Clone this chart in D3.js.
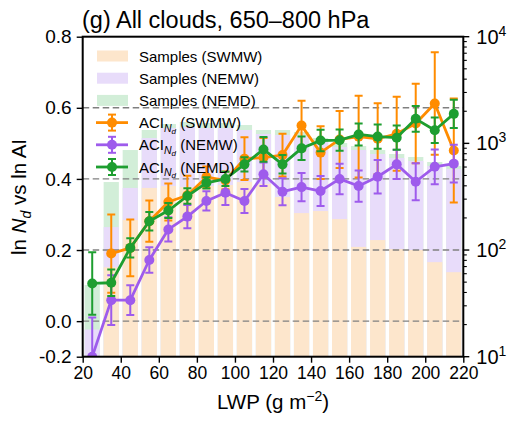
<!DOCTYPE html>
<html><head><meta charset="utf-8">
<script src="https://cdn.jsdelivr.net/npm/d3@7"></script>
<style>body{margin:0;background:#fff;} text{font-family:"Liberation Sans", Arial, sans-serif;fill:#000;}</style>
</head><body><svg id="c" width="512" height="421"></svg>
<script>
// ---- data ----
const lwp = [25,35,45,55,65,75,85,95,105,115,125,135,145,155,165,175,185,195,205,215];
const aciSWMW = [null,0.19,0.206,0.281,0.335,0.354,0.405,0.396,0.457,0.46,0.467,0.55,0.474,0.511,0.519,0.513,0.527,0.556,0.612,0.48];
const errSWMW = [null,0.11,0.08,0.058,0.052,0.055,0.03,0.025,0.06,0.055,0.06,0.07,0.074,0.08,0.115,0.10,0.104,0.112,0.144,0.146];
const aciNEMW = [-0.1,0.059,0.059,0.172,0.258,0.294,0.338,0.361,0.338,0.413,0.364,0.377,0.366,0.40,0.38,0.406,0.441,0.392,0.434,0.443];
const errNEMW = [0.11,0.07,0.042,0.036,0.034,0.033,0.027,0.034,0.034,0.033,0.038,0.04,0.042,0.043,0.044,0.047,0.041,0.052,0.049,0.053];
const aciNEMD = [0.106,0.108,0.206,0.281,0.311,0.352,0.389,0.40,0.441,0.483,0.441,0.486,0.508,0.509,0.525,0.519,0.516,0.569,0.537,0.583];
const errNEMD = [0.088,0.037,0.027,0.026,0.021,0.022,0.016,0.02,0.02,0.035,0.026,0.033,0.03,0.03,0.031,0.034,0.034,0.036,0.036,0.04];
const nSWMW = [null,69,191,382,398,390,398,407,434,416,314,222,232,195,107,124,102,100,77,62];
const nNEMW = [18,164,382,1122,1393,1423,1393,1393,1334,1224,1197,1172,1030,925,866,795,729,684,614,575];
const nNEMD = [47,434,866,1334,1518,1585,1552,1552,1486,1334,1334,1277,1122,1007,944,866,795,745,669,614];
const xTicks = [20,40,60,80,100,120,140,160,180,200,220];
const yTicks = [-0.1,0.0,0.2,0.4,0.6,0.8];
const yTickLabels = ["-0.2","0.0","0.2","0.4","0.6","0.8"];
const gridVals = [0.0,0.2,0.4,0.6];
const rTicks = [10,100,1000,10000];
const rTickExp = ["1","2","3","4"];
const seriesNames = ["SWMW","NEMW","NEMD"];
const lineColors = ["#ff8c00","#9e5bec","#1e9e30"];
const barColors = ["#fde6cc","#e8dcfa","#d2eed8"];

// ---- layout ----
const L = 82.7, R = 463.3, T = 36.7, B = 356.7;
const FONT = "Liberation Sans, Arial, sans-serif";
const svg = d3.select("#c");
const x = d3.scaleLinear().domain([20,220]).range([L,R]);
const y = d3.scaleLinear().domain([-0.1,0.8]).range([B,T]);
const yr = d3.scaleLog().domain([10,10000]).range([B,T]);

svg.append("defs").append("clipPath").attr("id","clip")
  .append("rect").attr("x",L).attr("y",T).attr("width",R-L).attr("height",B-T);

const plot = svg.append("g").attr("clip-path","url(#clip)");

// bars: NEMD (back), NEMW, SWMW (front)
const barSets = [[nNEMD,barColors[2]],[nNEMW,barColors[1]],[nSWMW,barColors[0]]];
barSets.forEach(([vals,col])=>{
  plot.append("g").selectAll("rect").data(lwp.map((c,i)=>({c,v:vals[i]})).filter(d=>d.v!=null))
    .enter().append("rect")
    .attr("x",d=>x(d.c-4)).attr("width",d=>x(d.c+4)-x(d.c-4))
    .attr("y",d=>yr(d.v)).attr("height",d=>B-yr(d.v))
    .attr("fill",col);
});

// grid
plot.append("g").selectAll("line").data(gridVals).enter().append("line")
  .attr("x1",L).attr("x2",R).attr("y1",d=>y(d)).attr("y2",d=>y(d))
  .attr("stroke","#808080").attr("stroke-width",1.4).attr("stroke-dasharray","6.5,3.5");

// series
const series = [[aciSWMW,errSWMW],[aciNEMW,errNEMW],[aciNEMD,errNEMD]];
series.forEach(([vals,errs],k)=>{
  const col = lineColors[k];
  const pts = lwp.map((c,i)=>({c,v:vals[i],e:errs[i]})).filter(d=>d.v!=null);
  const g = plot.append("g");
  pts.forEach(d=>{
    const y1 = y(d.v+d.e), y2 = y(d.v-d.e), cx = x(d.c);
    g.append("line").attr("x1",cx).attr("x2",cx).attr("y1",y1).attr("y2",y2).attr("stroke",col).attr("stroke-width",2);
    [y1,y2].forEach(yy=>g.append("line").attr("x1",cx-4).attr("x2",cx+4).attr("y1",yy).attr("y2",yy).attr("stroke",col).attr("stroke-width",2));
  });
  g.append("path").datum(pts)
    .attr("d",d3.line().x(d=>x(d.c)).y(d=>y(d.v)))
    .attr("fill","none").attr("stroke",col).attr("stroke-width",2.8).attr("stroke-linejoin","round");
  g.selectAll("circle").data(pts).enter().append("circle")
    .attr("cx",d=>x(d.c)).attr("cy",d=>y(d.v)).attr("r",5).attr("fill",col);
});

// frame
svg.append("rect").attr("x",L).attr("y",T).attr("width",R-L).attr("height",B-T)
  .attr("fill","none").attr("stroke","#000").attr("stroke-width",2);

// bottom axis
const gx = svg.append("g").attr("transform",`translate(0,${B})`)
  .call(d3.axisBottom(x).tickValues(xTicks).tickSize(6).tickPadding(4).tickFormat(d3.format("d")));
gx.select(".domain").remove();
gx.selectAll("line").attr("stroke","#000").attr("stroke-width",1.4);
gx.selectAll("text").attr("font-size",17.5).attr("font-family",FONT);

// left axis
const gy = svg.append("g").attr("transform",`translate(${L},0)`)
  .call(d3.axisLeft(y).tickValues(yTicks).tickSize(6).tickPadding(5).tickFormat((d,i)=>yTickLabels[i]));
gy.select(".domain").remove();
gy.selectAll("line").attr("stroke","#000").attr("stroke-width",1.4);
gy.selectAll("text").attr("font-size",19).attr("font-family",FONT);

// right log axis
const minor = [];
for (let e=1;e<4;e++) for (let m=2;m<10;m++) minor.push(m*Math.pow(10,e));
const gr = svg.append("g");
gr.selectAll("line.mi").data(minor).enter().append("line")
  .attr("x1",R).attr("x2",R+3.5).attr("y1",d=>yr(d)).attr("y2",d=>yr(d))
  .attr("stroke","#000").attr("stroke-width",1.1);
gr.selectAll("line.ma").data(rTicks).enter().append("line")
  .attr("x1",R).attr("x2",R+6).attr("y1",d=>yr(d)).attr("y2",d=>yr(d))
  .attr("stroke","#000").attr("stroke-width",1.4);
rTicks.forEach((t,i)=>{
  const tx = gr.append("text").attr("x",R+13).attr("y",yr(t)+7).attr("font-size",20);
  tx.append("tspan").text("10");
  tx.append("tspan").attr("dy",-8).attr("font-size",14).text(rTickExp[i]);
});

// title
svg.append("text").attr("x",82).attr("y",28).attr("font-size",23.5).text("(g) All clouds, 650–800 hPa");

// x label
const xl = svg.append("text").attr("x",(L+R)/2).attr("y",409).attr("text-anchor","middle").attr("font-size",20.5);
xl.append("tspan").text("LWP (g m");
xl.append("tspan").attr("dy",-8).attr("font-size",14).text("−2");
xl.append("tspan").attr("dy",8).text(")");

// y label
const yl = svg.append("text").attr("transform","translate(26,197) rotate(-90)").attr("text-anchor","middle").attr("font-size",20.5);
yl.append("tspan").text("ln ");
yl.append("tspan").attr("font-style","italic").text("N");
yl.append("tspan").attr("font-style","italic").attr("font-size",14).attr("dy",4.5).text("d");
yl.append("tspan").attr("dy",-4.5).text(" vs ln AI");

// legend
const lg = svg.append("g");
const rowY = i => 56 + i*22.2;
seriesNames.forEach((nm,i)=>{
  lg.append("rect").attr("x",97).attr("y",rowY(i)-5.5).attr("width",31).attr("height",11).attr("fill",barColors[i]);
  lg.append("text").attr("x",139).attr("y",rowY(i)+5.5).attr("font-size",15).text(`Samples (${nm})`);
});
seriesNames.forEach((nm,i)=>{
  const yy = rowY(i+3), col = lineColors[i], cx = 112;
  lg.append("line").attr("x1",96).attr("x2",128).attr("y1",yy).attr("y2",yy).attr("stroke",col).attr("stroke-width",2.8);
  lg.append("line").attr("x1",cx).attr("x2",cx).attr("y1",yy-8).attr("y2",yy+8).attr("stroke",col).attr("stroke-width",2);
  [yy-8,yy+8].forEach(v=>lg.append("line").attr("x1",cx-4).attr("x2",cx+4).attr("y1",v).attr("y2",v).attr("stroke",col).attr("stroke-width",2));
  lg.append("circle").attr("cx",cx).attr("cy",yy).attr("r",5).attr("fill",col);
  const t = lg.append("text").attr("x",139).attr("y",yy+5.5).attr("font-size",15);
  t.append("tspan").text("ACI");
  t.append("tspan").attr("font-style","italic").attr("font-size",10.5).attr("dy",3.5).text("N");
  t.append("tspan").attr("font-style","italic").attr("font-size",8).attr("dy",2).text("d");
  t.append("tspan").attr("dy",-5.5).text(` (${nm})`);
});
</script></body></html>
